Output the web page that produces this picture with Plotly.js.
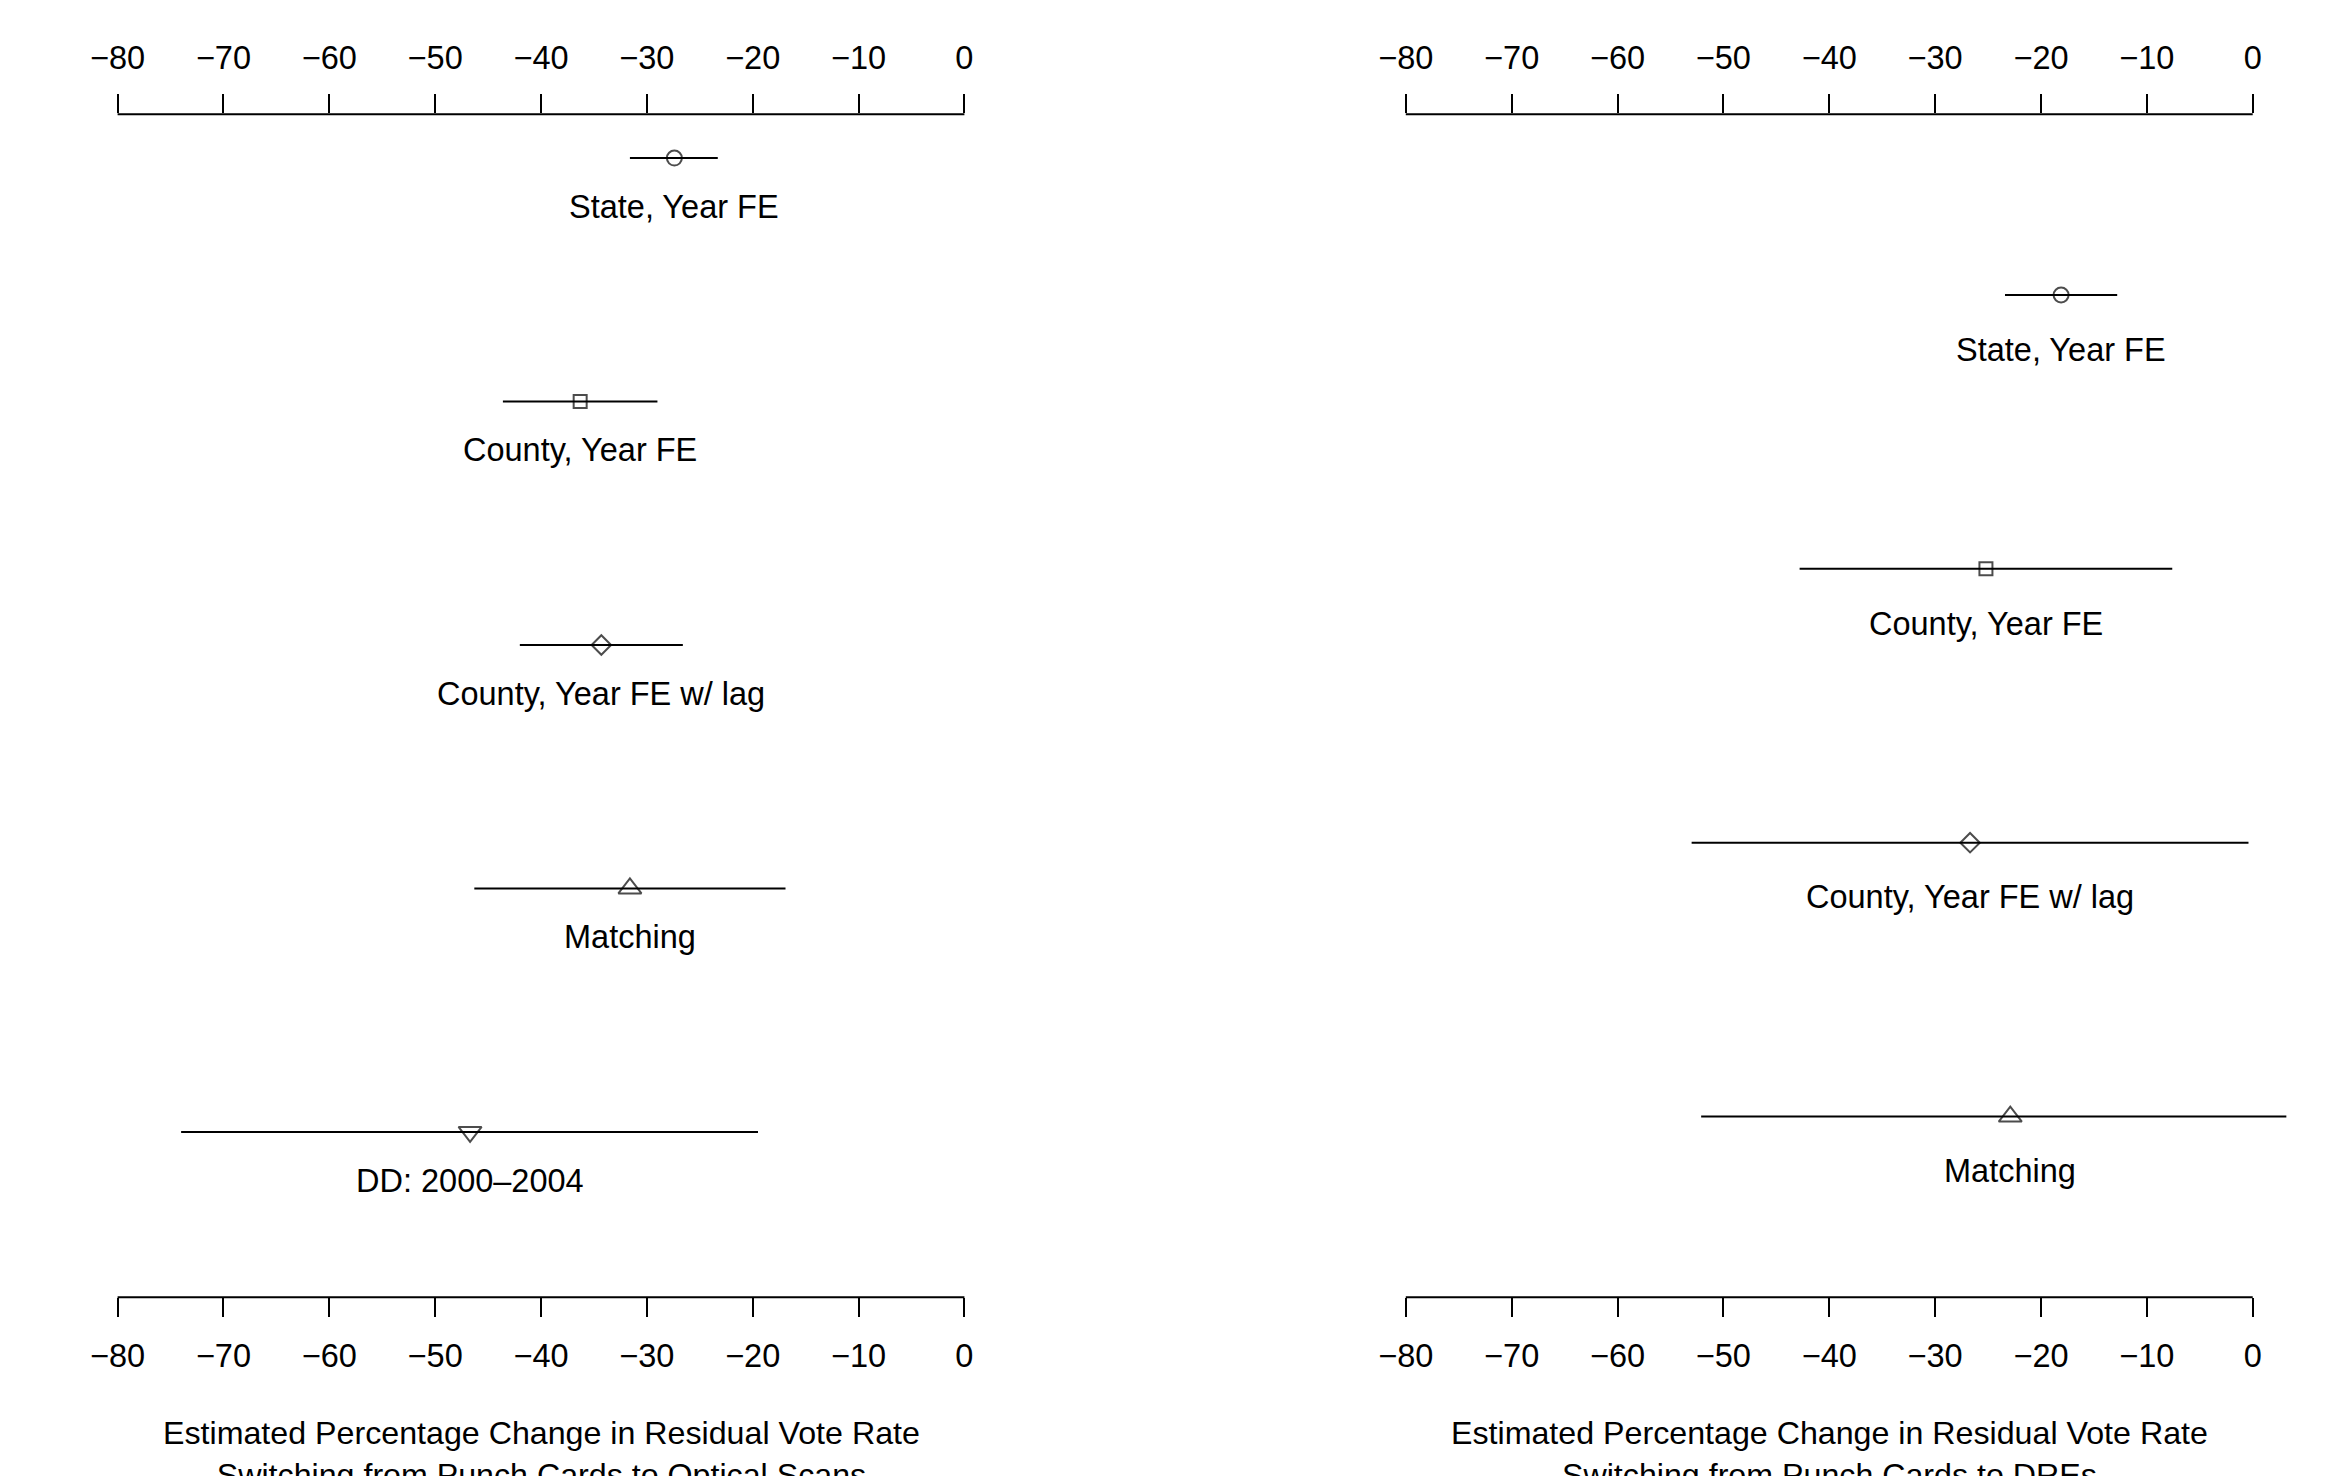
<!DOCTYPE html>
<html>
<head>
<meta charset="utf-8">
<script src="https://cdn.plot.ly/plotly-3.0.1.min.js"></script>
<style>
  html, body { margin: 0; padding: 0; background: #ffffff; }
  #chart { width: 2337px; height: 1476px; }
</style>
</head>
<body>
<div id="chart"></div>
<script>
// Switching from punch cards to optical scans
const opticalModels = ['State, Year FE', 'County, Year FE', 'County, Year FE w/ lag', 'Matching', 'DD: 2000\u20132004'];
const opticalEst    = [-27.4, -36.3, -34.3, -31.6, -46.7];
const opticalLow    = [-31.6, -43.6, -42.0, -46.3, -74.0];
const opticalHigh   = [-23.3, -29.0, -26.6, -16.9, -19.5];
const opticalSymbols = ['circle-open', 'square-open', 'diamond-open', 'triangle-up-open', 'triangle-down-open'];

// Switching from punch cards to DREs
const dreModels = ['State, Year FE', 'County, Year FE', 'County, Year FE w/ lag', 'Matching'];
const dreEst    = [-18.1, -25.2, -26.7, -22.9];
const dreLow    = [-23.4, -42.8, -53.0, -52.1];
const dreHigh   = [-12.8, -7.6, -0.4, 3.2];
const dreSymbols = ['circle-open', 'square-open', 'diamond-open', 'triangle-up-open'];

// Shared axis ticks
const tickValues = [-80, -70, -60, -50, -40, -30, -20, -10, 0];
const tickLabels = ['\u221280', '\u221270', '\u221260', '\u221250', '\u221240', '\u221230', '\u221220', '\u221210', '0'];

const opticalTitle = 'Estimated Percentage Change in Residual Vote Rate<br>Switching from Punch Cards to Optical Scans';
const dreTitle = 'Estimated Percentage Change in Residual Vote Rate<br>Switching from Punch Cards to DREs';

const FONT = 'Liberation Sans, Arial, Helvetica, sans-serif';
const FS = 32.5;
const TITLE_FS = 32.2;
const INK = '#000000';
const LW = 2;
const LABEL_DROP = 0.2;   // model names sit this many rows below their estimate

const markerSizes = {
  'circle-open': 15,
  'square-open': 13,
  'diamond-open': 15,
  'triangle-up-open': 20,
  'triangle-down-open': 20
};

function rowsOf(arr) { return arr.map((_, i) => i + 1); }

function estimateTrace(est, low, high, symbols, xa, ya) {
  return {
    type: 'scatter', mode: 'markers',
    x: est, y: rowsOf(est),
    xaxis: xa, yaxis: ya,
    marker: {
      symbol: symbols,
      size: symbols.map(s => markerSizes[s]),
      color: INK,
      line: { color: INK, width: LW }
    },
    error_x: {
      type: 'data', symmetric: false,
      array: high.map((h, i) => h - est[i]),
      arrayminus: low.map((l, i) => est[i] - l),
      width: 0, thickness: LW, color: INK
    },
    cliponaxis: false,
    hoverinfo: 'skip', showlegend: false
  };
}

// Invisible trace so the top axes are attached to data
function anchorTrace(xa, ya) {
  return { type: 'scatter', mode: 'markers', x: [tickValues[0]], y: [1], xaxis: xa, yaxis: ya,
           marker: { opacity: 0 }, hoverinfo: 'skip', showlegend: false };
}

const xRange = [-83.2, 3.2];

function bottomAxis(domain, yAnchor) {
  return {
    domain: domain, anchor: yAnchor, side: 'bottom', range: xRange,
    showgrid: false, zeroline: false, showline: false,
    ticks: 'outside', ticklen: 19, tickwidth: LW, tickcolor: INK,
    tickmode: 'array', tickvals: tickValues, ticktext: tickLabels,
    tickfont: { family: FONT, size: FS, color: INK },
    ticklabelstandoff: 11,
    automargin: false
  };
}

function topAxis(overlay, yAnchor) {
  return {
    overlaying: overlay, anchor: yAnchor, side: 'top', range: xRange,
    showgrid: false, zeroline: false, showline: false,
    ticks: 'outside', ticklen: 19, tickwidth: LW, tickcolor: INK,
    tickmode: 'array', tickvals: tickValues, ticktext: tickLabels,
    tickfont: { family: FONT, size: FS, color: INK },
    ticklabelstandoff: 12,
    automargin: false
  };
}

function hiddenY(domain, range, anchor) {
  return { domain: domain, range: range, anchor: anchor, visible: false, fixedrange: true };
}

const yDom = [0.1211, 0.9226];

// Axis lines span only the labelled ticks
function axisLines(xref) {
  const lo = Math.min(...tickValues), hi = Math.max(...tickValues);
  return yDom.map(py => ({
    type: 'line', xref: xref, yref: 'paper', x0: lo, x1: hi, y0: py, y1: py,
    line: { color: INK, width: LW }
  }));
}

function modelLabels(models, est, xref, yref) {
  return models.map((m, i) => ({
    text: m, x: est[i], y: i + 1 + LABEL_DROP, xref: xref, yref: yref,
    showarrow: false, xanchor: 'center', yanchor: 'middle',
    font: { family: FONT, size: FS, color: INK }
  }));
}

// Two-line axis captions centred under each panel's tick range
function axisCaption(text, xref) {
  const mid = (Math.min(...tickValues) + Math.max(...tickValues)) / 2;
  return {
    text: text, x: mid, xref: xref, y: 0.0152, yref: 'paper',
    showarrow: false, xanchor: 'center', yanchor: 'middle', align: 'center',
    font: { family: FONT, size: TITLE_FS, color: INK }
  };
}

const data = [
  estimateTrace(opticalEst, opticalLow, opticalHigh, opticalSymbols, 'x', 'y'),
  anchorTrace('x2', 'y'),
  estimateTrace(dreEst, dreLow, dreHigh, dreSymbols, 'x3', 'y2'),
  anchorTrace('x4', 'y2')
];

const layout = {
  width: 2337, height: 1476,
  margin: { l: 0, r: 0, t: 0, b: 0 },
  paper_bgcolor: '#ffffff', plot_bgcolor: '#ffffff',
  font: { family: FONT, size: FS, color: INK },
  showlegend: false,
  xaxis: bottomAxis([0.03583, 0.42716], 'y'),
  xaxis2: topAxis('x', 'y'),
  xaxis3: bottomAxis([0.58704, 0.97843], 'y2'),
  xaxis4: topAxis('x3', 'y2'),
  yaxis: hiddenY(yDom, [5.679, 0.82], 'x'),
  yaxis2: hiddenY(yDom, [4.66, 0.34], 'x3'),
  shapes: [...axisLines('x'), ...axisLines('x3')],
  annotations: [
    ...modelLabels(opticalModels, opticalEst, 'x', 'y'),
    ...modelLabels(dreModels, dreEst, 'x3', 'y2'),
    axisCaption(opticalTitle, 'x'),
    axisCaption(dreTitle, 'x3')
  ]
};

Plotly.newPlot('chart', data, layout, { staticPlot: true, displayModeBar: false });
</script>
</body>
</html>
